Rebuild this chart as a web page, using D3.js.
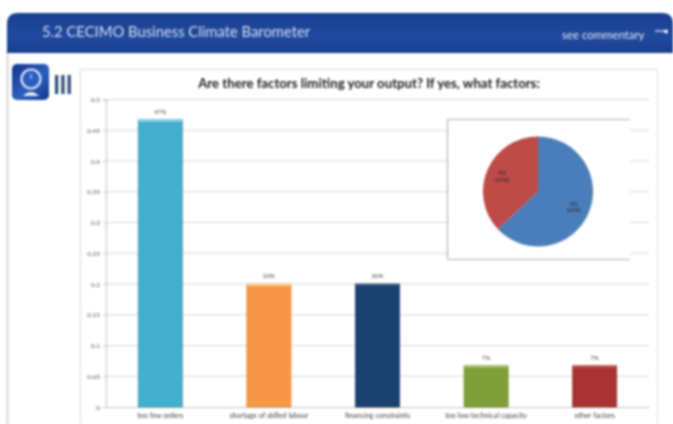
<!DOCTYPE html>
<html><head><meta charset="utf-8">
<script src="https://cdn.jsdelivr.net/npm/d3@7"></script>
<style>
html,body{margin:0;padding:0;background:#fff;overflow:hidden}
svg{display:block;filter:blur(0.8px)}
text{font-family:Lato,"Open Sans",sans-serif}
</style></head><body>
<svg id="c" width="673" height="424"></svg>
<script>
const headerTitle = "5.2 CECIMO Business Climate Barometer";
const commentary = "see commentary";
const chartTitle = "Are there factors limiting your output? If yes, what factors:";
const categories = ["too few orders","shortage of skilled labour","financing constraints","too low technical capacity","other factors"];
const values = [0.467,0.2,0.2,0.067,0.067];
const valueLabels = ["47%","20%","20%","7%","7%"];
const barColors = ["#44afcd","#f79646","#1a4170","#7f9f38","#a93232"];
const capColors = ["#a5dfee","#fde3a0","#3b5f8f","#b5cf7a","#c95a55"];
const edgeColors = ["#3c93ad","#d9864a","#17375f","#6f8a34","#8f2c2c"];
const yTicks = [0,0.05,0.1,0.15,0.2,0.25,0.3,0.35,0.4,0.45,0.5];
const pieNames = ["yes","no"];
const pieValues = [63,37];
const pieColors = ["#4a7ebb","#be4b48"];
const pieLabels = [["9%","(63%)"],["5%","(37%)"]];

const svg = d3.select("#c");
const defs = svg.append("defs");
const hg = defs.append("linearGradient").attr("id","hg").attr("x1",0).attr("x2",0).attr("y1",0).attr("y2",1);
hg.append("stop").attr("offset","0").attr("stop-color","#1a3f90");
hg.append("stop").attr("offset","0.6").attr("stop-color","#1f4a9e");
hg.append("stop").attr("offset","1").attr("stop-color","#1c3f8f");
const ig = defs.append("linearGradient").attr("id","ig").attr("x1",0).attr("x2",1).attr("y1",0).attr("y2",1);
ig.append("stop").attr("offset","0").attr("stop-color","#16348c");
ig.append("stop").attr("offset","0.55").attr("stop-color","#2a5fc0");
ig.append("stop").attr("offset","1").attr("stop-color","#16348c");

// page
svg.append("rect").attr("x",6).attr("y",50).attr("width",3).attr("height",374).attr("fill","#e2e2e2");
svg.append("path").attr("fill","url(#hg)")
  .attr("d","M7,53V24Q7,13 18,13H662Q673,13 673,24V53Z");
svg.append("text").attr("x",42).attr("y",37).attr("font-size",14.8).attr("fill","#d5dff0").text(headerTitle);
svg.append("text").attr("x",562).attr("y",38.5).attr("font-size",11.4).attr("fill","#e4eaf5").text(commentary);
svg.append("line").attr("x1",655).attr("x2",667).attr("y1",31).attr("y2",31).attr("stroke","#e8eef8").attr("stroke-width",1.2);
svg.append("circle").attr("cx",666).attr("cy",31.5).attr("r",2).attr("fill","#f2f5fb");

// icon
svg.append("rect").attr("x",12).attr("y",64).attr("width",37).attr("height",36).attr("rx",5).attr("fill","url(#ig)");
svg.append("circle").attr("cx",31).attr("cy",79).attr("r",9.5).attr("fill","#2a5fc0").attr("stroke","#dfe8f6").attr("stroke-width",2.2);
svg.append("line").attr("x1",31).attr("x2",31).attr("y1",74).attr("y2",79).attr("stroke","#dfe8f6");
svg.append("path").attr("d","M23,96Q31,88 39,96Z").attr("fill","#e6edf8");
svg.selectAll(".bar3").data([0,1,2]).join("rect").attr("class","bar3")
  .attr("x",d=>55+d*6.3).attr("y",75).attr("width",3.2).attr("height",19).attr("fill","#274a78");

// chart frame
svg.append("rect").attr("x",80.5).attr("y",69.5).attr("width",577).attr("height",360).attr("fill","#fff").attr("stroke","#dcdcdc");
svg.append("text").attr("x",369).attr("y",87.5).attr("text-anchor","middle").attr("font-size",13.2).attr("font-weight",700).attr("fill","#222").text(chartTitle);

const x = d3.scaleBand().domain(categories).range([106,649]).paddingInner(0.595).paddingOuter(0.2975);
const y = d3.scaleLinear().domain([0,0.5]).range([407,99.5]);

// grid
svg.append("g").selectAll("line").data(yTicks.slice(1)).join("line")
  .attr("x1",106).attr("x2",649).attr("y1",d=>y(d)).attr("y2",d=>y(d)).attr("stroke","#d8d8d8");

// axes
const ya = svg.append("g").attr("transform","translate(106,0)")
  .call(d3.axisLeft(y).tickValues(yTicks).tickFormat(d=>String(d)).tickSize(3).tickPadding(3));
ya.selectAll("text").attr("font-size",6.4).attr("fill","#555").style("font-family","Lato,sans-serif");
ya.selectAll("line,path").attr("stroke","#c4c4c4");
const xa = svg.append("g").attr("transform","translate(0,407)")
  .call(d3.axisBottom(x).tickSize(0).tickPadding(6));
xa.selectAll("text").attr("font-size",7.2).attr("fill","#444").style("font-family","Lato,sans-serif");
xa.selectAll("path").attr("stroke","#c4c4c4");

// bars
svg.append("g").selectAll("rect").data(categories).join("rect")
  .attr("x",d=>x(d)).attr("width",x.bandwidth())
  .attr("y",(d,i)=>y(values[i])).attr("height",(d,i)=>y(0)-y(values[i]))
  .attr("fill",(d,i)=>barColors[i]).attr("stroke",(d,i)=>edgeColors[i]).attr("stroke-width",0.8);
svg.append("g").selectAll("rect").data(categories).join("rect")
  .attr("x",d=>x(d)).attr("width",x.bandwidth())
  .attr("y",(d,i)=>y(values[i])).attr("height",1.6)
  .attr("fill",(d,i)=>capColors[i]);
svg.append("g").selectAll("text").data(categories).join("text")
  .attr("x",d=>x(d)+x.bandwidth()/2).attr("y",(d,i)=>y(values[i])-6)
  .attr("text-anchor","middle").attr("font-size",6.2).attr("fill","#444")
  .text((d,i)=>valueLabels[i]);

// inset pie
svg.append("rect").attr("x",447).attr("y",119).attr("width",183).attr("height",140).attr("fill","#fff");
svg.append("path").attr("d","M630,119.5H447.5V259").attr("fill","none").attr("stroke","#b4b4b4").attr("stroke-width",1.2);
svg.append("path").attr("d","M447,259.5H630").attr("fill","none").attr("stroke","#c8c8c8").attr("stroke-width",1.6);
const pie = d3.pie().sort(null)(pieValues);
const arc = d3.arc().innerRadius(0).outerRadius(55);
const pg = svg.append("g").attr("transform","translate(538,191.5)");
pg.selectAll("path").data(pie).join("path").attr("d",arc).attr("fill",(d,i)=>pieColors[i]);
const lab = d3.arc().innerRadius(39).outerRadius(39);
pg.selectAll("text").data(pie).join("text")
  .attr("transform",(d,i)=>{const c=lab.centroid(d);return `translate(${c[0]},${c[1]})`;})
  .attr("text-anchor","middle").attr("font-size",5.6).attr("fill","#222")
  .selectAll("tspan").data((d,i)=>pieLabels[i]).join("tspan")
  .attr("x",0).attr("dy",(d,i)=>i?6.5:-1).text(d=>d);
</script>
</body></html>
